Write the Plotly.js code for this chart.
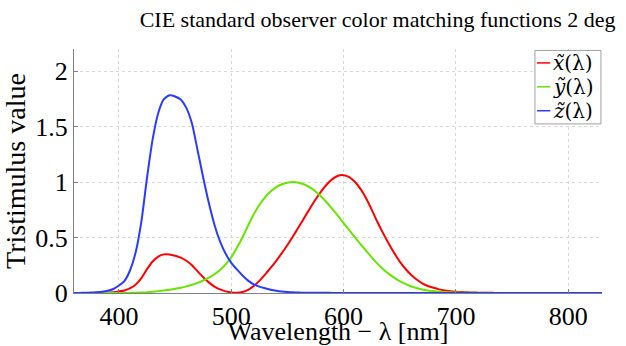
<!DOCTYPE html>
<html>
<head>
<meta charset="utf-8">
<script src="https://cdn.plot.ly/plotly-3.0.1.min.js"></script>
<style>html,body{margin:0;padding:0;background:#fff;}#chart{width:626px;height:346px;}</style>
</head>
<body>
<div id="chart"></div>
<script>
// CIE 1931 2-degree standard observer, 5 nm steps, 360-830 nm
const wavelength = [360,365,370,375,380,385,390,395,400,405,410,415,420,425,430,435,440,445,450,455,460,465,470,475,480,485,490,495,500,505,510,515,520,525,530,535,540,545,550,555,560,565,570,575,580,585,590,595,600,605,610,615,620,625,630,635,640,645,650,655,660,665,670,675,680,685,690,695,700,705,710,715,720,725,730,735,740,745,750,755,760,765,770,775,780,785,790,795,800,805,810,815,820,825,830];
const xbar = [0.000130,0.000232,0.000415,0.000742,0.001368,0.002236,0.004243,0.007650,0.014310,0.023190,0.043510,0.077630,0.134380,0.214770,0.283900,0.328500,0.348280,0.348060,0.336200,0.318700,0.290800,0.251100,0.195360,0.142100,0.095640,0.057950,0.032010,0.014700,0.004900,0.002400,0.009300,0.029100,0.063270,0.109600,0.165500,0.225750,0.290400,0.359700,0.433450,0.512050,0.594500,0.678400,0.762100,0.842500,0.916300,0.978600,1.026300,1.056700,1.062200,1.045600,1.002600,0.938400,0.854450,0.751400,0.642400,0.541900,0.447900,0.360800,0.283500,0.218700,0.164900,0.121200,0.087400,0.063600,0.046770,0.032900,0.022700,0.015840,0.011359,0.008111,0.005790,0.004109,0.002899,0.002049,0.001440,0.001000,0.000690,0.000476,0.000332,0.000235,0.000166,0.000117,0.000083,0.000059,0.000042,0.000030,0.000021,0.000015,0.000011,0.0000075,0.0000053,0.0000038,0.0000027,0.0000019,0.0000013];
const ybar = [0.000004,0.000007,0.000012,0.000022,0.000039,0.000064,0.000120,0.000217,0.000396,0.000640,0.001210,0.002180,0.004000,0.007300,0.011600,0.016840,0.023000,0.029800,0.038000,0.048000,0.060000,0.073900,0.090980,0.112600,0.139020,0.169300,0.208020,0.258600,0.323000,0.407300,0.503000,0.608200,0.710000,0.793200,0.862000,0.914850,0.954000,0.980300,0.994950,1.000000,0.995000,0.978600,0.952000,0.915400,0.870000,0.816300,0.757000,0.694900,0.631000,0.566800,0.503000,0.441200,0.381000,0.321000,0.265000,0.217000,0.175000,0.138200,0.107000,0.081600,0.061000,0.044580,0.032000,0.023200,0.017000,0.011920,0.008210,0.005723,0.004102,0.002929,0.002091,0.001484,0.001047,0.000740,0.000520,0.000361,0.000249,0.000172,0.000120,0.000085,0.000060,0.000042,0.000030,0.000021,0.000015,0.000011,0.0000074,0.0000054,0.0000038,0.0000027,0.0000019,0.0000014,0.0000010,0.0000007,0.0000005];
const zbar = [0.000606,0.001086,0.001946,0.003486,0.006450,0.010550,0.020050,0.036210,0.067850,0.110200,0.207400,0.371300,0.645600,1.039050,1.385600,1.622960,1.747060,1.782600,1.772110,1.744100,1.669200,1.528100,1.287640,1.041900,0.812950,0.616200,0.465180,0.353300,0.272000,0.212300,0.158200,0.111700,0.078250,0.057250,0.042160,0.029840,0.020300,0.013400,0.008750,0.005750,0.003900,0.002750,0.002100,0.001800,0.001650,0.001400,0.001100,0.001000,0.000800,0.000600,0.000340,0.000240,0.000190,0.000100,0.000050,0.000030,0.000020,0.000010,0,0,0,0,0,0,0,0,0,0,0,0,0,0,0,0,0,0,0,0,0,0,0,0,0,0,0,0,0,0,0,0,0,0,0,0,0];
const seriesNames = ['<i>x̃</i>(λ)', '<i>ỹ</i>(λ)', '<i>z̃</i>(λ)'];
const xTicks = [400, 500, 600, 700, 800];
const yTicks = [0, 0.5, 1, 1.5, 2];
const yTickText = ['0', '0.5', '1', '1.5', '2'];

const colors = ['rgb(255,0,0)', 'rgb(102,230,0)', 'rgb(40,60,255)'];
const serif = '"Liberation Serif", "Times New Roman", serif';
const mathFont = '"DejaVu Serif", serif';

const traces = [xbar, ybar, zbar].map((v, i) => ({
  x: wavelength, y: v, type: 'scatter', mode: 'lines', name: seriesNames[i],
  showlegend: false,
  line: {color: colors[i], width: 2, shape: 'spline', smoothing: 0.6}
}));

// Compact legend box (legend layout, not data)
const legX0 = 0.873, legX1 = 0.998, legTop = 0.994, legBot = 0.693;
const legRows = [0.943, 0.845, 0.747];
const shapes = [{type: 'rect', xref: 'paper', yref: 'paper', x0: legX0, x1: legX1, y0: legBot, y1: legTop,
                 line: {color: '#a0a0a0', width: 1}, fillcolor: '#fff', layer: 'above'}];
const annotations = [];
seriesNames.forEach((n, i) => {
  shapes.push({type: 'line', xref: 'paper', yref: 'paper', x0: 0.877, x1: 0.902, y0: legRows[i], y1: legRows[i],
               line: {color: colors[i], width: 1.5}, layer: 'above'});
  annotations.push({xref: 'paper', yref: 'paper', x: 0.904, y: legRows[i], xanchor: 'left', yanchor: 'middle',
                    text: n, showarrow: false, font: {family: mathFont, size: 20, color: '#000'}});
});

const layout = {
  width: 626, height: 346,
  margin: {l: 74, r: 24, t: 49, b: 53},
  paper_bgcolor: '#fff', plot_bgcolor: '#fff',
  font: {family: serif, color: '#000', size: 25},
  title: {text: 'CIE standard observer color matching functions 2 deg', font: {family: serif, size: 22, color: '#000'},
          x: 0.575, xref: 'paper', xanchor: 'center', y: 0.943, yref: 'container', yanchor: 'middle'},
  xaxis: {range: [360, 830], tickvals: xTicks, ticktext: xTicks.map(String),
          showgrid: true, gridcolor: '#d8d8d8', griddash: 'dot', gridwidth: 1,
          ticks: 'inside', ticklen: 4, tickcolor: '#808080',
          showline: true, linecolor: '#808080', linewidth: 1, zeroline: false,
          tickfont: {family: serif, size: 26, color: '#000'},
          title: {text: 'Wavelength − λ [nm]', font: {family: serif, size: 26, color: '#000'}, standoff: 0}},
  yaxis: {range: [0, 2.2], tickvals: yTicks, ticktext: yTickText,
          showgrid: true, gridcolor: '#d8d8d8', griddash: 'dot', gridwidth: 1,
          ticks: 'inside', ticklen: 4, tickcolor: '#808080',
          showline: true, linecolor: '#808080', linewidth: 1, zeroline: false,
          tickfont: {family: serif, size: 26, color: '#000'},
          title: {text: 'Tristimulus value', font: {family: serif, size: 28, color: '#000'}, standoff: 2}},
  showlegend: false,
  shapes: shapes,
  annotations: annotations
};

Plotly.newPlot('chart', traces, layout, {displayModeBar: false, staticPlot: true});
</script>
</body>
</html>
